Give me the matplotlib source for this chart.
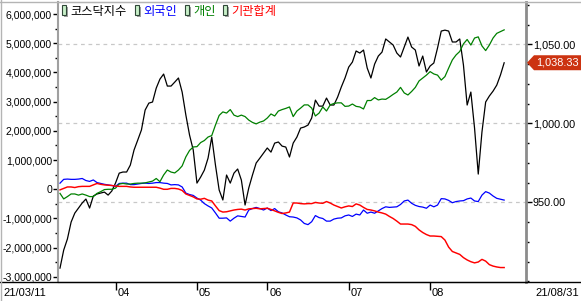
import numpy as np
import matplotlib
matplotlib.use('Agg')
import matplotlib.pyplot as plt
import matplotlib.transforms as mtransforms
from matplotlib.patches import Rectangle, Polygon
from matplotlib.lines import Line2D
from matplotlib.ticker import FuncFormatter, MultipleLocator, FixedLocator

plt.rcParams['font.family'] = ['Liberation Sans', 'DejaVu Sans']

# trading days 21/03/11 .. 21/08/31 (121 sessions)
kosdaq = [908.4, 919.8, 926.8, 937.5, 943.2, 946.4, 949.6, 952.1, 946.4, 954.0,
          955.3, 955.9, 956.5, 954.6, 957.2, 962.2, 968.5, 969.2, 969.2, 973.6,
          983.1, 989.4, 995.8, 1008.4, 1012.8, 1013.5, 1022.3, 1028.0, 1031.2, 1023.6,
          1023.6, 1026.1, 1028.7, 1019.8, 1005.3, 992.6, 983.1, 962.2, 966.0, 970.4,
          978.0, 991.3, 973.6, 957.8, 951.5, 967.3, 962.2, 968.5, 971.1, 964.1,
          948.3, 959.1, 967.3, 974.9, 978.0, 981.2, 984.4, 981.8, 987.5, 988.2,
          985.6, 985.0, 978.7, 987.5, 991.3, 997.0, 997.7, 998.9, 1003.4, 1014.7,
          1010.9, 1010.9, 1016.0, 1011.6, 1011.6, 1016.6, 1023.0, 1028.7, 1035.6, 1038.8,
          1045.8, 1044.5, 1046.4, 1035.0, 1028.7, 1037.5, 1042.6, 1045.1, 1053.4, 1051.5,
          1049.6, 1044.5, 1042.0, 1048.3, 1054.6, 1048.3, 1046.4, 1036.3, 1042.6, 1032.5,
          1036.3, 1038.2, 1047.7, 1058.4, 1059.0, 1058.4, 1051.5, 1051.5, 1053.4, 1036.9,
          1011.6, 1019.8, 997.0, 967.9, 994.5, 1013.5, 1017.3, 1020.4, 1024.2, 1030.6,
          1038.33]

# cumulative net buying, millions
foreign = [0.21, 0.34, 0.35, 0.34, 0.34, 0.35, 0.37, 0.30, 0.27, 0.32,
           0.23, 0.20, 0.17, 0.15, 0.13, 0.10, 0.20, 0.21, 0.21, 0.16,
           0.16, 0.18, 0.20, 0.21, 0.20, 0.21, 0.23, 0.23, 0.21, 0.20,
           0.15, 0.16, 0.15, 0.08, -0.13, -0.18, -0.21, -0.30, -0.37, -0.49,
           -0.57, -0.64, -0.81, -0.99, -0.99, -0.98, -1.09, -0.99, -0.91, -0.93,
           -0.95, -0.71, -0.66, -0.62, -0.66, -0.71, -0.64, -0.73, -0.66, -0.77,
           -0.81, -0.88, -0.94, -0.95, -0.98, -1.05, -1.17, -1.21, -1.11, -0.90,
           -0.97, -1.00, -1.09, -1.09, -1.02, -0.99, -0.98, -0.91, -0.88, -0.93,
           -0.85, -0.88, -0.71, -0.82, -0.78, -0.82, -0.74, -0.66, -0.60, -0.62,
           -0.61, -0.60, -0.52, -0.40, -0.37, -0.48, -0.55, -0.59, -0.61, -0.65,
           -0.54, -0.60, -0.54, -0.32, -0.33, -0.38, -0.46, -0.42, -0.40, -0.39,
           -0.33, -0.30, -0.40, -0.42, -0.20, -0.08, -0.13, -0.23, -0.31, -0.34,
           -0.37]

individual = [-0.14, -0.33, -0.25, -0.16, -0.16, -0.20, -0.16, -0.20, -0.25, -0.25,
              -0.14, -0.08, -0.01, 0.00, 0.00, 0.04, 0.18, 0.20, 0.18, 0.18,
              0.20, 0.21, 0.21, 0.22, 0.25, 0.28, 0.37, 0.26, 0.49, 0.66,
              0.59, 0.56, 0.66, 0.80, 1.11, 1.33, 1.45, 1.46, 1.60, 1.67,
              1.79, 1.84, 2.20, 2.53, 2.65, 2.61, 2.73, 2.54, 2.49, 2.54,
              2.49, 2.37, 2.29, 2.24, 2.30, 2.34, 2.44, 2.58, 2.51, 2.68,
              2.73, 2.77, 2.82, 2.49, 2.68, 2.78, 2.89, 2.89, 2.78, 2.51,
              2.61, 2.82, 2.68, 2.89, 2.94, 2.96, 2.96, 2.84, 2.85, 2.92,
              2.84, 2.82, 2.75, 3.04, 3.04, 3.14, 3.06, 3.09, 3.08, 3.16,
              3.25, 3.33, 3.49, 3.30, 3.23, 3.35, 3.49, 3.71, 3.81, 3.91,
              4.03, 3.95, 3.91, 3.74, 3.86, 4.15, 4.43, 4.60, 4.72, 4.98,
              5.13, 4.94, 5.18, 5.22, 4.91, 4.75, 4.94, 5.18, 5.34, 5.40,
              5.46]

institution = [-0.02, 0.03, 0.08, 0.08, 0.06, 0.09, 0.10, 0.10, 0.10, 0.15,
               0.20, 0.17, 0.15, 0.14, 0.13, 0.11, 0.10, 0.10, 0.10, 0.08,
               0.07, 0.07, 0.07, 0.07, 0.07, 0.07, 0.07, 0.04, 0.00, 0.00,
               0.03, 0.03, 0.01, -0.04, -0.16, -0.21, -0.26, -0.33, -0.34, -0.31,
               -0.37, -0.40, -0.57, -0.73, -0.78, -0.77, -0.74, -0.71, -0.69, -0.68,
               -0.71, -0.67, -0.66, -0.65, -0.67, -0.66, -0.65, -0.69, -0.74, -0.79,
               -0.83, -0.81, -0.78, -0.47, -0.47, -0.49, -0.50, -0.49, -0.49, -0.45,
               -0.47, -0.48, -0.42, -0.47, -0.54, -0.59, -0.64, -0.60, -0.57, -0.59,
               -0.50, -0.54, -0.62, -0.69, -0.71, -0.74, -0.78, -0.81, -0.85, -0.93,
               -1.00, -1.09, -1.19, -1.19, -1.19, -1.21, -1.27, -1.39, -1.48, -1.55,
               -1.60, -1.60, -1.61, -1.62, -1.74, -1.98, -2.13, -2.18, -2.23, -2.34,
               -2.42, -2.48, -2.52, -2.49, -2.40, -2.46, -2.58, -2.63, -2.66, -2.68,
               -2.68]

month_ticks = [15, 37, 56, 78, 100]
month_labels = ['04', '05', '06', '07', '08']
first_date, last_date = '21/03/11', '21/08/31'
legend_items = [('코스닥지수', 'black'), ('외국인', 'blue'), ('개인', 'green'), ('기관합계', 'red')]

W, H = 581, 301
fig = plt.figure(figsize=(W / 100, H / 100), dpi=100)


def fx(x):
    return x / W


def fy(y):
    return 1 - y / H


ax = fig.add_axes([fx(58), fy(282), fx(526) - fx(58), fy(2) - fy(282)])
ax2 = ax.twinx()
ax2.set_zorder(ax.get_zorder() - 1)
ax.patch.set_visible(False)

days = np.arange(len(kosdaq))
ax2.plot(days, kosdaq, color='black', lw=0.9)
ax.plot(days, np.array(foreign) * 1e6, color='blue', lw=0.9)
ax.plot(days, np.array(individual) * 1e6, color='green', lw=0.9)
ax.plot(days, np.array(institution) * 1e6, color='red', lw=1.05)

ax.set_xlim(-0.54, 125.9)
ax.set_ylim(-3.175e6, 6.414e6)
ax2.set_ylim(899.6, 1076.8)

# left axis
ax.yaxis.set_major_locator(MultipleLocator(1e6))
ax.yaxis.set_minor_locator(MultipleLocator(5e5))
ax.yaxis.set_major_formatter(FuncFormatter(lambda v, p: '{:,.0f}'.format(v)))
ax.tick_params(axis='y', which='major', direction='out', length=3.5, width=1, labelsize=7.6, pad=0.8)
ax.tick_params(axis='y', which='minor', direction='out', length=2.5, width=1)

# right axis
ax2.yaxis.set_major_locator(FixedLocator([950, 1000, 1050]))
ax2.yaxis.set_minor_locator(MultipleLocator(12.5))
ax2.yaxis.set_major_formatter(FuncFormatter(lambda v, p: '{:,.2f}'.format(v)))
ax2.tick_params(axis='y', which='major', direction='out', length=4, width=1, labelsize=7.8, pad=1)
ax2.tick_params(axis='y', which='minor', direction='out', length=2.5, width=1)
ax2.yaxis.grid(True, which='major', linestyle=(0, (3, 3)), color='#c8c8c8', lw=0.9)

# x axis
ax.set_xticks(month_ticks)
ax.set_xticklabels([])
ax.tick_params(axis='x', direction='out', length=6, width=1)
tr = mtransforms.blended_transform_factory(ax.transData, fig.transFigure)
for t, lab in zip(month_ticks, month_labels):
    ax.text(t + 0.5, fy(293), lab, transform=tr, ha='left', va='center', fontsize=8)
fig.text(fx(3), fy(293), first_date, ha='left', va='center', fontsize=8)
fig.text(fx(579), fy(293), last_date, ha='right', va='center', fontsize=8)

for s in ['left', 'top', 'bottom']:
    ax2.spines[s].set_visible(False)
ax.spines['right'].set_visible(False)
ax.spines['left'].set_color('#a0a0a0')
ax.spines['left'].set_linewidth(1.5)
ax.spines['top'].set_color('#b4b4b4')
ax.spines['bottom'].set_color('black')
ax2.spines['right'].set_color('#8c8c8c')
ax2.spines['right'].set_linewidth(2)

# frame lines spanning the whole panel
fig.add_artist(Line2D([0, 1], [fy(282), fy(282)], color='black', lw=1, transform=fig.transFigure))
fig.add_artist(Line2D([0, 1], [fy(2), fy(2)], color='#b4b4b4', lw=1, transform=fig.transFigure))
fig.add_artist(Line2D([fx(0.5), fx(0.5)], [0, 1], color='#b4b4b4', lw=1, transform=fig.transFigure))

# legend
icon_x = [62, 135, 185, 223]
for (lab, col), lx in zip(legend_items, icon_x):
    fig.add_artist(Rectangle((fx(lx + 2), fy(17)), fx(4), fy(7) - fy(17), transform=fig.transFigure,
                             facecolor='#a0a0a0', edgecolor='none'))
    fig.add_artist(Rectangle((fx(lx), fy(15)), fx(4), fy(5) - fy(15), transform=fig.transFigure,
                             facecolor='#c8f0c8', edgecolor='#304838', lw=0.8))
    fig.text(fx(lx + 8), fy(11), lab, color=col, fontsize=8.8, ha='left', va='center',
             family=['Noto Sans CJK KR', 'DejaVu Sans'])

# last value marker
yv = 123.3 - (kosdaq[-1] - 1000) * 1.58
box = [(527, yv), (534, yv - 7.5), (581, yv - 7.5), (581, yv + 7.5), (534, yv + 7.5)]
fig.add_artist(Polygon([(fx(a), fy(b)) for a, b in box], closed=True, transform=fig.transFigure,
                       facecolor='#cc3311', edgecolor='none'))
fig.text(fx(557), fy(yv), '{:,.2f}'.format(kosdaq[-1]), color='white', fontsize=7.8,
         ha='center', va='center')

fig.savefig('out.png', dpi=100)
